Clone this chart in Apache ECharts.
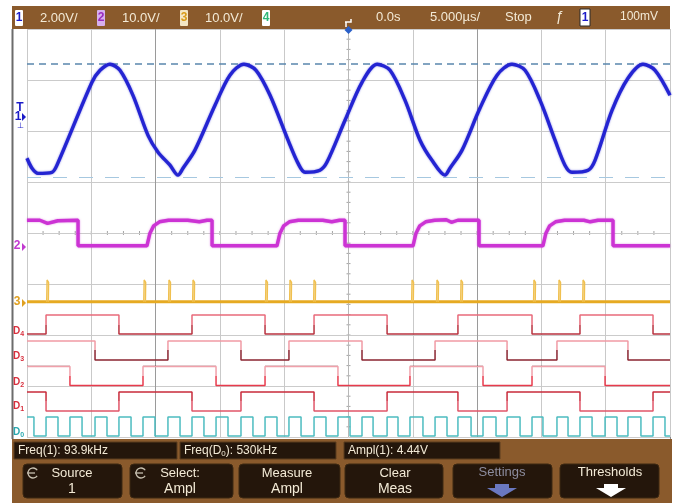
<!DOCTYPE html>
<html>
<head>
<meta charset="utf-8">
<script src="https://cdn.jsdelivr.net/npm/echarts/dist/echarts.min.js"></script>
<style>
  html, body { margin: 0; padding: 0; background: #ffffff; }
  #scope { width: 673px; height: 503px; }
</style>
</head>
<body>
<div id="scope"></div>
<script>
// ---- Acquisition: 5 µs/div, 10 divisions, trigger at 0 s ----
const timeMin = -25, timeMax = 25, timeDiv = 5;

// Channel 1 (analog, 2 V/div) — [time µs, volts]
const ch1Points = [
  [-25.00,-1.61],[-24.61,-2.00],[-24.15,-2.20],[-23.06,-2.16],[-22.67,-1.88],
  [-19.95,1.37],[-19.32,1.84],[-18.55,2.08],[-17.77,1.84],[-16.76,0.86],
  [-15.59,-0.71],[-14.81,-1.37],[-13.88,-1.88],[-13.26,-2.27],[-12.87,-2.00],
  [-11.94,-1.29],[-10.38,0.47],[-9.22,1.65],[-8.13,2.08],[-7.19,1.84],
  [-6.10,0.86],[-4.70,-0.90],[-3.93,-1.80],[-3.38,-2.16],[-2.22,-2.08],
  [-1.67,-1.76],[-0.27,-0.12],[1.05,1.37],[2.22,2.08],[3.23,1.84],
  [4.39,0.67],[5.56,-0.90],[6.49,-1.69],[7.50,-2.27],[7.89,-2.00],
  [8.83,-1.29],[10.22,0.35],[11.55,1.65],[12.71,2.08],[13.73,1.84],
  [14.89,0.67],[16.06,-0.90],[16.83,-1.88],[17.38,-2.16],[18.63,-2.08],
  [19.17,-1.69],[20.49,0.27],[21.73,1.53],[22.90,2.08],[23.84,1.84],[25.00,0.86]
];
// Amplitude cursors for the Ampl(1) measurement (volts)
const ch1Cursors = [2.08, -2.36];

// Channel 2 (analog, 10 V/div) — [time µs, volts]
const ch2Points = [
  [-25,5.2],[-24.0,5.2],[-23.4,4.6],[-22.6,5.1],[-21.03,5.2],[-21.03,0.2],
  [-15.67,0.2],[-15.45,2.6],[-15.15,4.1],[-14.7,4.9],[-14.0,5.2],[-12.5,5.2],[-11.6,4.9],[-11.0,5.2],[-10.61,5.2],[-10.61,0.2],
  [-5.56,0.2],[-5.34,2.6],[-5.04,4.1],[-4.6,4.9],[-3.9,5.2],[-2.0,5.2],[-1.3,4.9],[-0.7,5.2],[-0.27,5.2],[-0.27,0.2],
  [5.02,0.2],[5.24,2.6],[5.54,4.1],[6.0,4.9],[6.7,5.2],[7.6,5.3],[8.0,4.8],[8.5,5.2],[10.15,5.2],[10.15,0.2],
  [15.12,0.2],[15.34,2.6],[15.64,4.1],[16.1,4.9],[16.8,5.2],[18.3,5.2],[18.8,4.9],[19.4,5.2],[20.57,5.2],[20.57,0.2],
  [25,0.2]
];

// Channel 3 (analog, 10 V/div) — short pulses on a 0 V baseline
const ch3SpikeTimes = [-23.44,-15.89,-13.96,-12.09,-6.42,-4.55,-2.68,4.94,6.88,8.75,14.42,16.37,18.24];
const ch3SpikeVolts = 4.3;

// Digital channels — edge times in µs
const d0Rise = [-23.52,-21.66,-19.71,-17.85,-15.98,-14.04,-12.17,-10.30,-8.36,-6.49,-4.63,-2.68,-0.82,
                1.05,3.00,4.78,6.73,8.51,10.46,12.33,14.27,16.21,18.00,19.95,21.73,23.68];
const d0Fall = [-24.46,-22.59,-20.72,-18.78,-16.91,-15.05,-13.10,-11.24,-9.37,-7.43,-5.56,-3.69,-1.75,
                0.12,1.91,3.85,5.79,7.66,9.53,11.47,13.34,15.12,17.07,18.94,20.88,22.74,24.61];
const d1Edges = [-23.52,-17.85,-12.17,-8.36,-2.68,3.00,8.51,12.33,18.00,23.68];
const d2Edges = [-21.66,-15.98,-10.30,-6.49,-0.82,4.78,10.46,14.27,19.95];
const d3Edges = [-19.71,-14.04,-8.36,-4.63,1.05,6.73,12.33,16.21,21.73];
const d4Edges = [-23.52,-17.85,-12.17,-6.49,-2.68,3.00,8.51,14.27,18.00,23.68];
const dStartHigh = { D0: true, D1: true, D2: true, D3: true, D4: false };

// Measurement read-outs and soft-key labels
const measTexts = ['Freq(1): 93.9kHz', 'Freq(D{s|0}): 530kHz', 'Ampl(1): 4.44V'];
const softKeys = [['Source', '1'], ['Select:', 'Ampl'], ['Measure', 'Ampl'], ['Clear', 'Meas'], ['Settings', ''], ['Thresholds', '']];

// ---- Vertical placement (graticule divisions, 0 = bottom, 8 = top) ----
const ch1 = { scale: 2, ground: 6.27 };
const ch2 = { scale: 10, ground: 3.73 };
const ch3 = { scale: 10, ground: 2.65 };
const digLow = { D0: 0.02, D1: 0.51, D2: 1.01, D3: 1.51, D4: 2.02 };
const digSwing = 0.37;

const toDiv = (ch, v) => ch.ground + v / ch.scale;
const analog = (ch, pts) => pts.map(p => [p[0], toDiv(ch, p[1])]);

function digital(name, edges) {
  const lo = digLow[name], hi = lo + digSwing;
  let high = dStartHigh[name];
  const pts = [[timeMin, high ? hi : lo]];
  edges.forEach(t => {
    pts.push([t, high ? hi : lo]);
    high = !high;
    pts.push([t, high ? hi : lo]);
  });
  pts.push([timeMax, high ? hi : lo]);
  return pts;
}

const ch3Base = [[timeMin, toDiv(ch3, 0)], [timeMax, toDiv(ch3, 0)]];
const ch3Pulses = [];
ch3SpikeTimes.forEach(t => {
  ch3Pulses.push([t - 0.03, toDiv(ch3, 0)], [t, toDiv(ch3, ch3SpikeVolts)],
                 [t + 0.12, toDiv(ch3, ch3SpikeVolts - 0.5)], [t + 0.1, toDiv(ch3, 0)], [t + 0.1, null]);
});
const d0Edges = d0Rise.concat(d0Fall).sort((a, b) => a - b);

// ---- Screen chrome ----
const BROWN = '#8a5a2c', DARK = '#24160b', CREAM = '#f3ead6';
const FONT = '"Liberation Sans", Arial, sans-serif';
const g = [];
const rect = (x, y, w, h, fill, extra) => g.push(Object.assign({ type: 'rect', shape: { x, y, width: w, height: h }, style: { fill }, silent: true }, extra || {}));
const text = (x, y, s, fill, size, align, extra) => g.push({
  type: 'text', silent: true, z: 10,
  style: Object.assign({ text: s, x, y, fill, font: (size || 12) + 'px ' + FONT,
    align: align || 'left', textAlign: align || 'left', verticalAlign: 'middle', textVerticalAlign: 'middle' }, extra || {})
});

// frame and status bars
rect(12, 6, 658, 23, BROWN);
rect(12, 439, 660, 64, BROWN);
g.push({ type: 'line', shape: { x1: 12.5, y1: 29, x2: 12.5, y2: 439 }, style: { stroke: '#6c6c6c', lineWidth: 2 }, silent: true });
g.push({ type: 'line', shape: { x1: 670.5, y1: 29, x2: 670.5, y2: 439 }, style: { stroke: '#8a8a8a', lineWidth: 1 }, silent: true });

// centre-line graticule ticks (every 1/4 division across, 1/5 division down)
const tickEls = [];
for (let i = 1; i < 40; i++) {
  const x = 27 + i * 64.3 / 4;
  tickEls.push({ type: 'line', silent: true, shape: { x1: x, y1: 231, x2: x, y2: 235 }, style: { stroke: '#a4a4a4', lineWidth: 1 } });
}
for (let i = 1; i < 40; i++) {
  const y = 29 + i * 51 / 5;
  tickEls.push({ type: 'line', silent: true, shape: { x1: 346.5, y1: y, x2: 350.5, y2: y }, style: { stroke: '#a4a4a4', lineWidth: 1 } });
}
g.push({ type: 'group', silent: true, children: tickEls, z: 1 });

// channel badges in the top bar
const badge = (x, label, bg, fg) => {
  rect(x, 10, 8, 16, bg, { shape: { x, y: 10, width: 8, height: 16, r: 1 } });
  text(x + 4, 18, label, fg, 13, 'center', { fontWeight: 'bold' });
};
badge(15, '1', '#ffffff', '#1b1bc8');
badge(97, '2', '#d7b0ee', '#9a2cc0');
badge(180, '3', '#f3e6c4', '#d89a18');
badge(262, '4', '#ffffff', '#2fb878');
text(40, 18, '2.00V/', CREAM, 13);
text(122, 18, '10.0V/', CREAM, 13);
text(205, 18, '10.0V/', CREAM, 13);
text(376, 17, '0.0s', CREAM, 13);
text(430, 17, '5.000µs/', CREAM, 13);
text(505, 17, 'Stop', CREAM, 13);
text(560, 17, 'ƒ', CREAM, 14, 'center');
rect(580, 9, 10, 17, '#ffffff', { style: { fill: '#ffffff', stroke: '#2a2a2a', lineWidth: 1 } });
text(585, 18, '1', '#1b1bc8', 13, 'center', { fontWeight: 'bold' });
text(620, 17, '100mV', CREAM, 12);

// trigger position marker
g.push({ type: 'polyline', shape: { points: [[345, 22], [351, 22], [351, 19]] }, style: { stroke: '#ffffff', lineWidth: 1.5, fill: null }, silent: true, z: 10 });
g.push({ type: 'polyline', shape: { points: [[346, 22], [346, 27]] }, style: { stroke: '#ffffff', lineWidth: 1.5, fill: null }, silent: true, z: 10 });
g.push({ type: 'polygon', shape: { points: [[348.5, 26], [352.5, 30], [348.5, 34], [344.5, 30]] }, style: { fill: '#2a5fc8' }, silent: true, z: 10 });

// channel ground / trigger markers on the left edge
text(20, 108, 'T', '#1b1bc8', 8, 'center', { fontWeight: 'bold' });
text(18, 117, '1', '#1b1bc8', 11, 'center', { fontWeight: 'bold' });
g.push({ type: 'polygon', shape: { points: [[22, 113], [26, 117], [22, 121]] }, style: { fill: '#1b1bc8' }, silent: true });
text(20, 126, '⊥', '#1b1bc8', 8, 'center');
text(17, 246, '2', '#c23ad0', 11, 'center', { fontWeight: 'bold' });
g.push({ type: 'polygon', shape: { points: [[22, 243], [26, 247], [22, 251]] }, style: { fill: '#c23ad0' }, silent: true });
text(17, 302, '3', '#e0a020', 11, 'center', { fontWeight: 'bold' });
g.push({ type: 'polygon', shape: { points: [[22, 299], [26, 303], [22, 307]] }, style: { fill: '#e0a020' }, silent: true });
const dLabel = (y, n, color) => g.push({
  type: 'text', silent: true, z: 10,
  style: { text: '{d|D}{s|' + n + '}', x: 13, y, verticalAlign: 'middle', textVerticalAlign: 'middle',
    rich: { d: { fill: color, font: 'bold 10px ' + FONT }, s: { fill: color, font: 'bold 7px ' + FONT, padding: [6, 0, 0, 0] } } }
});
dLabel(331, '4', '#d8303e');
dLabel(356, '3', '#d8303e');
dLabel(382, '2', '#d8303e');
dLabel(406, '1', '#d8303e');
dLabel(432, '0', '#2aa8b0');

// measurement read-out boxes
const measBoxes = [[14, 163], [180, 156], [344, 156]];
measBoxes.forEach((b, i) => {
  rect(b[0], 442, b[1], 17, DARK, { style: { fill: DARK, stroke: '#5a3c1e', lineWidth: 1 } });
  g.push({ type: 'text', silent: true, z: 10, style: {
    text: measTexts[i], x: b[0] + 4, y: 451, verticalAlign: 'middle', textVerticalAlign: 'middle',
    fill: CREAM, font: '12px ' + FONT,
    rich: { s: { fill: CREAM, font: '8px ' + FONT, padding: [5, 0, 0, 0] } } } });
});

// soft keys
const keyX = [[23, 99, 72], [130, 103, 180], [239, 101, 287], [345, 98, 395], [453, 99, 502], [560, 99, 610]];
keyX.forEach((k, i) => {
  g.push({ type: 'rect', silent: true, shape: { x: k[0], y: 464, width: k[1], height: 34, r: 4 }, style: { fill: DARK, stroke: '#3c2812', lineWidth: 1 } });
  const col = i === 4 ? '#8c8c9e' : CREAM;
  text(k[2], softKeys[i][1] ? 473 : 472, softKeys[i][0], col, 13, 'center');
  if (softKeys[i][1]) text(k[2], 489, softKeys[i][1], col, 14, 'center');
});
// rotary-knob icons
[[33, 473], [141, 473]].forEach(c => {
  g.push({ type: 'arc', silent: true, shape: { cx: c[0], cy: c[1], r: 5, startAngle: 0.6, endAngle: 5.7 }, style: { stroke: '#c8c0b0', lineWidth: 1.3, fill: null } });
  g.push({ type: 'polyline', silent: true, shape: { points: [[c[0] - 6, c[1]], [c[0] + 2, c[1]]] }, style: { stroke: '#c8c0b0', lineWidth: 1.3 } });
});
// down arrows
const arrow = (cx, color) => g.push({ type: 'polygon', silent: true, z: 10,
  shape: { points: [[cx - 7, 484], [cx + 7, 484], [cx + 7, 488], [cx + 15, 488], [cx, 497], [cx - 15, 488], [cx - 7, 488]] },
  style: { fill: color } });
arrow(502, '#6a78c0');
arrow(611, '#ffffff');

// graticule: vertical lines at t = -15 and +10 µs are rendered a touch darker
const vGridColors = ['#c9c9c9', '#c9c9c9', '#9a9a9a', '#c9c9c9', '#c9c9c9', '#b8b8b8', '#c9c9c9', '#9a9a9a', '#c9c9c9', '#c9c9c9', '#c9c9c9'];

const chart = echarts.init(document.getElementById('scope'), null, { renderer: 'canvas' });
chart.setOption({
  animation: false,
  backgroundColor: '#ffffff',
  grid: { left: 27, right: 3, top: 29, bottom: 66, show: false },
  xAxis: { type: 'value', min: timeMin, max: timeMax, interval: timeDiv,
    axisLine: { show: false }, axisTick: { show: false }, axisLabel: { show: false },
    splitLine: { show: true, lineStyle: { color: vGridColors, width: 1 } } },
  yAxis: { type: 'value', min: 0, max: 8, interval: 1,
    axisLine: { show: false }, axisTick: { show: false }, axisLabel: { show: false },
    splitLine: { show: true, lineStyle: { color: '#cbcbcb', width: 1 } } },
  visualMap: [
    { type: 'piecewise', show: false, dimension: 1, seriesIndex: [4, 5, 6, 7],
      pieces: [
        { gte: 2.20, lt: 2.6, color: '#e86a7a' }, { gte: 1.9, lt: 2.20, color: '#b8323f' },
        { gte: 1.70, lt: 1.9, color: '#f09aa4' }, { gte: 1.4, lt: 1.70, color: '#8a2430' },
        { gte: 1.20, lt: 1.4, color: '#f0a0aa' }, { gte: 0.9, lt: 1.20, color: '#e83a4c' },
        { gte: 0.70, lt: 0.9, color: '#c82a3a' }, { gte: 0.4, lt: 0.70, color: '#e05568' }
      ] }
  ],
  series: [
    { name: 'Ch1', type: 'line', showSymbol: false, symbol: 'none', smooth: 0.3, z: 5,
      data: analog(ch1, ch1Points),
      lineStyle: { color: '#2424d2', width: 3.4, shadowBlur: 2, shadowColor: 'rgba(40,40,210,0.6)' },
      markLine: { silent: true, symbol: 'none', label: { show: false }, z: 2,
        data: [
          { yAxis: toDiv(ch1, ch1Cursors[0]), lineStyle: { color: '#5a86ad', width: 1.6, type: [7, 5] } },
          { yAxis: toDiv(ch1, ch1Cursors[1]), lineStyle: { color: '#a6c8e0', width: 1.2, type: [14, 12] } }
        ] } },
    { name: 'Ch2', type: 'line', showSymbol: false, symbol: 'none', smooth: false, z: 5,
      data: analog(ch2, ch2Points),
      lineStyle: { color: '#cc33d4', width: 3.4, shadowBlur: 2, shadowColor: 'rgba(200,50,210,0.6)' } },
    { name: 'Ch3 base', type: 'line', showSymbol: false, symbol: 'none', z: 5,
      data: ch3Base, lineStyle: { color: '#e6aa22', width: 3 } },
    { name: 'Ch3', type: 'line', showSymbol: false, symbol: 'none', connectNulls: false, z: 5,
      data: ch3Pulses, lineStyle: { color: '#f0c050', width: 1.4 } },
    { name: 'D4', type: 'line', showSymbol: false, symbol: 'none', data: digital('D4', d4Edges), lineStyle: { width: 1.5 } },
    { name: 'D3', type: 'line', showSymbol: false, symbol: 'none', data: digital('D3', d3Edges), lineStyle: { width: 1.5 } },
    { name: 'D2', type: 'line', showSymbol: false, symbol: 'none', data: digital('D2', d2Edges), lineStyle: { width: 1.5 } },
    { name: 'D1', type: 'line', showSymbol: false, symbol: 'none', data: digital('D1', d1Edges), lineStyle: { width: 1.5 } },
    { name: 'D0', type: 'line', showSymbol: false, symbol: 'none', data: digital('D0', d0Edges), lineStyle: { color: '#4cbcc0', width: 1.5 } }
  ],
  graphic: { elements: g }
});
</script>
</body>
</html>
